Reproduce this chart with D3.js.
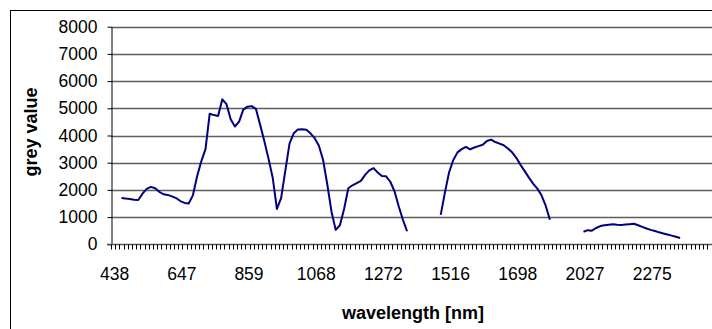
<!DOCTYPE html>
<html>
<head>
<meta charset="utf-8">
<script src="https://cdn.jsdelivr.net/npm/d3@7"></script>
<style>
  body { margin: 0; background: #fff; }
  svg { display: block; font-family: "Liberation Sans", Arial, sans-serif; }
</style>
</head>
<body>
<svg width="712" height="329"></svg>
<script>
// number of spectral bands on the category axis
const bandCount = 143;
// a label every 16 bands
const labelStep = 16;
const tickLabels = ['438', '647', '859', '1068', '1272', '1516', '1698', '2027', '2275'];
const yTicks = [0, 1000, 2000, 3000, 4000, 5000, 6000, 7000, 8000];

// grey value per band, null where the band was removed
const greyValue = [
  null, null, 1700, 1680, 1665, 1640, 1630, 1860, 2040, 2110,
  2060, 1930, 1840, 1815, 1760, 1700, 1590, 1520, 1500, 1800,
  2500, 3050, 3500, 4800, 4750, 4720, 5330, 5150, 4600, 4330,
  4510, 4950, 5060, 5080, 4980, 4400, 3800, 3150, 2450, 1300,
  1700, 2700, 3700, 4080, 4220, 4230, 4210, 4080, 3900, 3620,
  3100, 2200, 1200, 530, 700, 1300, 2060, 2170, 2250, 2330,
  2550, 2720, 2800, 2640, 2510, 2500, 2300, 1950, 1400, 900,
  480, null, null, null, null, null, null, null, 1080, 1900,
  2650, 3100, 3380, 3500, 3580, 3490, 3560, 3610, 3660, 3800,
  3850, 3760, 3700, 3640, 3520, 3380, 3180, 2920, 2690, 2450,
  2230, 2050, 1800, 1420, 900, null, null, null, null, null,
  null, null, 460, 520, 500, 600, 670, 700, 720, 735,
  720, 710, 725, 740, 755, 700, 640, 580, 530, 490,
  440, 400, 360, 320, 280, 230
];

const plot = {left: 111, right: 711.6, top: 26.7, bottom: 244.3};
const svg = d3.select('svg');

// chart frame (cut off at right and bottom)
svg.append('rect')
    .attr('x', 10.5).attr('y', 10.5)
    .attr('width', 800).attr('height', 400)
    .attr('fill', '#fff')
    .attr('stroke', '#000')
    .attr('stroke-width', 1);

let x = d3.scaleBand()
    .domain(d3.range(bandCount))
    .range([plot.left, plot.right])
    .padding(0);

let y = d3.scaleLinear()
    .domain([0, 8000])
    .range([plot.bottom, plot.top]);

// gridlines
svg.append('g')
    .selectAll('line')
    .data(yTicks.filter(d => d > 0))
    .enter()
    .append('line')
        .attr('x1', plot.left)
        .attr('x2', 712)
        .attr('y1', d => Math.round(y(d)) + 0.5)
        .attr('y2', d => Math.round(y(d)) + 0.5)
        .attr('stroke', '#5e5e5e')
        .attr('stroke-width', 1.4);

// y axis
let yAxis = d3.axisLeft(y)
    .tickValues(yTicks)
    .tickFormat(d3.format('d'))
    .tickSize(4)
    .tickSizeOuter(0)
    .tickPadding(10);
let gy = svg.append('g')
    .attr('transform', `translate(${plot.left + 0.5},0)`)
    .call(yAxis);
gy.select('.domain').attr('stroke', '#000');
gy.selectAll('.tick line').attr('stroke', '#000');
gy.selectAll('.tick text')
    .attr('font-size', 17.5)
    .attr('fill', '#000')
    .attr('font-family', '"Liberation Sans", Arial, sans-serif');

// x axis line and a tick between every band
let gx = svg.append('g');
gx.append('line')
    .attr('x1', plot.left - 4)
    .attr('x2', 712)
    .attr('y1', Math.round(plot.bottom) + 0.5)
    .attr('y2', Math.round(plot.bottom) + 0.5)
    .attr('stroke', '#555')
    .attr('stroke-width', 1.3);
gx.selectAll('.band-tick')
    .data(d3.range(bandCount + 1))
    .enter()
    .append('line')
        .classed('band-tick', true)
        .attr('x1', d => Math.round(plot.left + d * x.step()) + 0.5)
        .attr('x2', d => Math.round(plot.left + d * x.step()) + 0.5)
        .attr('y1', Math.round(plot.bottom) + 0.5)
        .attr('y2', Math.round(plot.bottom) + 5.5)
        .attr('stroke', '#000');

// category labels
gx.selectAll('.band-label')
    .data(tickLabels)
    .enter()
    .append('text')
        .classed('band-label', true)
        .attr('x', (d, i) => x(i * labelStep) + x.bandwidth() / 2 + 1.5)
        .attr('y', 279.5)
        .attr('text-anchor', 'middle')
        .attr('font-size', 17.5)
        .text(d => d);

// spectrum line
let line = d3.line()
    .defined(d => d !== null)
    .x((d, i) => x(i) + x.bandwidth() / 2)
    .y(d => y(d));

svg.append('path')
    .datum(greyValue)
    .attr('d', line)
    .attr('fill', 'none')
    .attr('stroke', '#000080')
    .attr('stroke-width', 2)
    .attr('stroke-linejoin', 'round');

// axis titles
svg.append('text')
    .text('wavelength [nm]')
    .attr('x', 413)
    .attr('y', 319)
    .attr('text-anchor', 'middle')
    .attr('font-size', 18)
    .attr('font-weight', 'bold');

svg.append('text')
    .text('grey value')
    .attr('transform', 'translate(37,132) rotate(-90)')
    .attr('text-anchor', 'middle')
    .attr('font-size', 18)
    .attr('font-weight', 'bold');
</script>
</body>
</html>
